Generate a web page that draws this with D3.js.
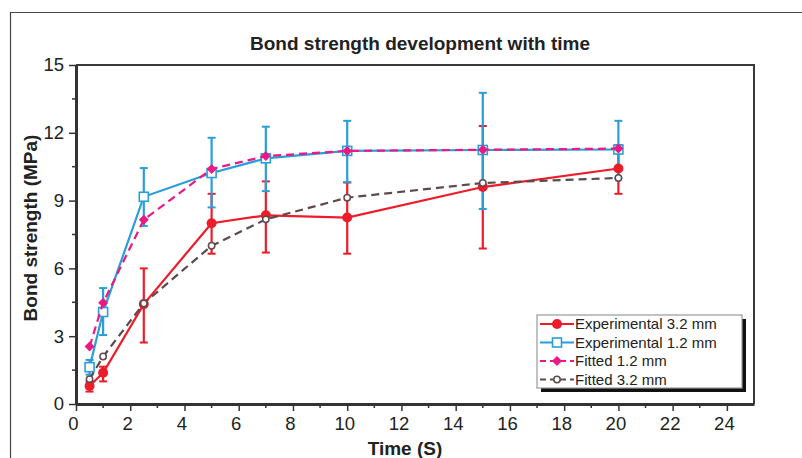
<!DOCTYPE html>
<html>
<head>
<meta charset="utf-8">
<script src="https://cdn.jsdelivr.net/npm/d3@7"></script>
<style>
  body { margin: 0; background: #fff; }
  text { font-family: "Liberation Sans", Arial, sans-serif; fill: #222; }
</style>
</head>
<body>
<svg id="chart" width="802" height="458"></svg>
<script>
// data
var times = [0.5, 1, 2.5, 5, 7, 10, 15, 20];
var exp32 = [0.8, 1.38, 4.42, 8.0, 8.35, 8.25, 9.6, 10.42];
var exp32Lo = [0.55, 1.0, 2.72, 6.65, 6.7, 6.65, 6.88, 9.3];
var exp32Hi = [1.0, 1.65, 6.0, 9.3, 9.85, 9.8, 12.3, 11.45];
var exp12 = [1.63, 4.07, 9.17, 10.22, 10.87, 11.2, 11.24, 11.26];
var exp12Lo = [1.3, 3.05, 7.88, 8.7, 9.42, 9.82, 8.63, 10.0];
var exp12Hi = [1.95, 5.13, 10.44, 11.78, 12.27, 12.53, 13.77, 12.53];
var fit12 = [2.54, 4.48, 8.15, 10.4, 10.97, 11.2, 11.25, 11.3];
var fit32 = [1.1, 2.1, 4.45, 7.0, 8.17, 9.13, 9.78, 10.0];
var xTicks = [0, 2, 4, 6, 8, 10, 12, 14, 16, 18, 20, 22, 24];
var yTicks = [0, 3, 6, 9, 12, 15];

var series = [
    {name: "Experimental 3.2 mm", vals: exp32, lo: exp32Lo, hi: exp32Hi, color: "#ec1c2a", dash: null, marker: "circle"},
    {name: "Experimental 1.2 mm", vals: exp12, lo: exp12Lo, hi: exp12Hi, color: "#2a9ed8", dash: null, marker: "square"},
    {name: "Fitted 1.2 mm", vals: fit12, color: "#ea1a84", dash: "8,5", marker: "diamond"},
    {name: "Fitted 3.2 mm", vals: fit32, color: "#5d4a4c", dash: "8,5", marker: "ring"}
];

var svg = d3.select("#chart");

// outer frame
svg.append("path")
    .attr("d", "M10.5,458 L10.5,12.5 L802,12.5")
    .attr("fill", "none")
    .attr("stroke", "#444")
    .attr("stroke-width", 1.2);

var x = d3.scaleLinear().domain([0, 25]).range([76, 754]);
var y = d3.scaleLinear().domain([0, 15]).range([404, 65]);

// title
svg.append("text")
    .attr("x", 420).attr("y", 50)
    .attr("text-anchor", "middle")
    .style("font-size", "19px").style("font-weight", "bold")
    .text("Bond strength development with time");

// plot frame top/right
svg.append("path")
    .attr("d", "M" + x(0) + "," + y(15) + " L" + x(25) + "," + y(15) + " L" + x(25) + "," + y(0))
    .attr("fill", "none")
    .attr("stroke", "#3a3a3a")
    .attr("stroke-width", 2);

// minor ticks
var xMinor = d3.range(1, 25, 2);
svg.append("g").selectAll("line").data(xMinor).enter().append("line")
    .attr("x1", function(d) { return x(d); }).attr("x2", function(d) { return x(d); })
    .attr("y1", y(0)).attr("y2", y(0) + 4)
    .attr("stroke", "#333").attr("stroke-width", 1.5);
var yMinor = d3.range(1.5, 15, 3);
svg.append("g").selectAll("line").data(yMinor).enter().append("line")
    .attr("y1", function(d) { return y(d); }).attr("y2", function(d) { return y(d); })
    .attr("x1", x(0)).attr("x2", x(0) - 4)
    .attr("stroke", "#333").attr("stroke-width", 1.5);

var xAxis = svg.append("g")
    .attr("transform", "translate(0," + y(0) + ")")
    .call(d3.axisBottom(x).tickValues(xTicks).tickSize(7).tickPadding(6).tickSizeOuter(0));
var yAxis = svg.append("g")
    .attr("transform", "translate(" + x(0) + ",0)")
    .call(d3.axisLeft(y).tickValues(yTicks).tickSize(7).tickPadding(5).tickSizeOuter(0));

[xAxis, yAxis].forEach(function(a) {
    a.select(".domain").attr("stroke", "#333").attr("stroke-width", 3);
    a.selectAll(".tick line").attr("stroke", "#333").attr("stroke-width", 1.5);
    a.selectAll(".tick text")
        .style("font-size", "18.5px")
        .style("font-family", "'Liberation Sans', Arial, sans-serif")
        .attr("fill", "#222");
});
xAxis.selectAll(".tick text").attr("dx", "-3");

// axis titles
svg.append("text")
    .attr("x", 405).attr("y", 455)
    .attr("text-anchor", "middle")
    .style("font-size", "19px").style("font-weight", "bold")
    .text("Time (S)");
svg.append("text")
    .attr("transform", "translate(37,228) rotate(-90)")
    .attr("text-anchor", "middle")
    .style("font-size", "19px").style("font-weight", "bold")
    .text("Bond strength (MPa)");

// error bars
series.forEach(function(s) {
    if (!s.lo) return;
    var g = svg.append("g");
    times.forEach(function(t, i) {
        g.append("line")
            .attr("x1", x(t)).attr("x2", x(t))
            .attr("y1", y(s.lo[i])).attr("y2", y(s.hi[i]))
            .attr("stroke", s.color).attr("stroke-width", 2.2);
        [s.lo[i], s.hi[i]].forEach(function(v) {
            g.append("line")
                .attr("x1", x(t) - 4).attr("x2", x(t) + 4)
                .attr("y1", y(v)).attr("y2", y(v))
                .attr("stroke", s.color).attr("stroke-width", 2);
        });
    });
});

var line = d3.line()
    .x(function(d) { return x(d[0]); })
    .y(function(d) { return y(d[1]); });

function drawMarker(g, type, cx, cy, color) {
    if (type === "circle") {
        g.append("circle").attr("cx", cx).attr("cy", cy).attr("r", 5).attr("fill", color);
    } else if (type === "square") {
        g.append("rect").attr("x", cx - 4.5).attr("y", cy - 4.5).attr("width", 9).attr("height", 9)
            .attr("fill", "#fff").attr("stroke", color).attr("stroke-width", 1.6);
    } else if (type === "diamond") {
        g.append("path")
            .attr("d", "M" + cx + "," + (cy - 5) + " L" + (cx + 5) + "," + cy + " L" + cx + "," + (cy + 5) + " L" + (cx - 5) + "," + cy + "Z")
            .attr("fill", color);
    } else {
        g.append("circle").attr("cx", cx).attr("cy", cy).attr("r", 3.2)
            .attr("fill", "#fff").attr("stroke", color).attr("stroke-width", 1.5);
    }
}

series.forEach(function(s) {
    var pts = times.map(function(t, i) { return [t, s.vals[i]]; });
    svg.append("path")
        .datum(pts)
        .attr("d", line)
        .attr("fill", "none")
        .attr("stroke", s.color)
        .attr("stroke-width", 2.2)
        .attr("stroke-dasharray", s.dash);
    var g = svg.append("g");
    pts.forEach(function(p) { drawMarker(g, s.marker, x(p[0]), y(p[1]), s.color); });
});

// legend
var lg = svg.append("g").attr("transform", "translate(537,315)");
lg.append("rect").attr("x", 4).attr("y", 4).attr("width", 205).attr("height", 73).attr("fill", "#111");
lg.append("rect").attr("x", 0).attr("y", 0).attr("width", 205).attr("height", 73)
    .attr("fill", "#fff").attr("stroke", "#999").attr("stroke-width", 1.2);
series.forEach(function(s, i) {
    var ry = 9 + i * 18.5;
    lg.append("line").attr("x1", 3).attr("x2", 37).attr("y1", ry).attr("y2", ry)
        .attr("stroke", s.color).attr("stroke-width", 2)
        .attr("stroke-dasharray", s.dash ? "6,4" : null);
    drawMarker(lg, s.marker, 20, ry, s.color);
    lg.append("text").attr("x", 38).attr("y", ry + 5)
        .style("font-size", "15px")
        .text(s.name);
});
</script>
</body>
</html>
